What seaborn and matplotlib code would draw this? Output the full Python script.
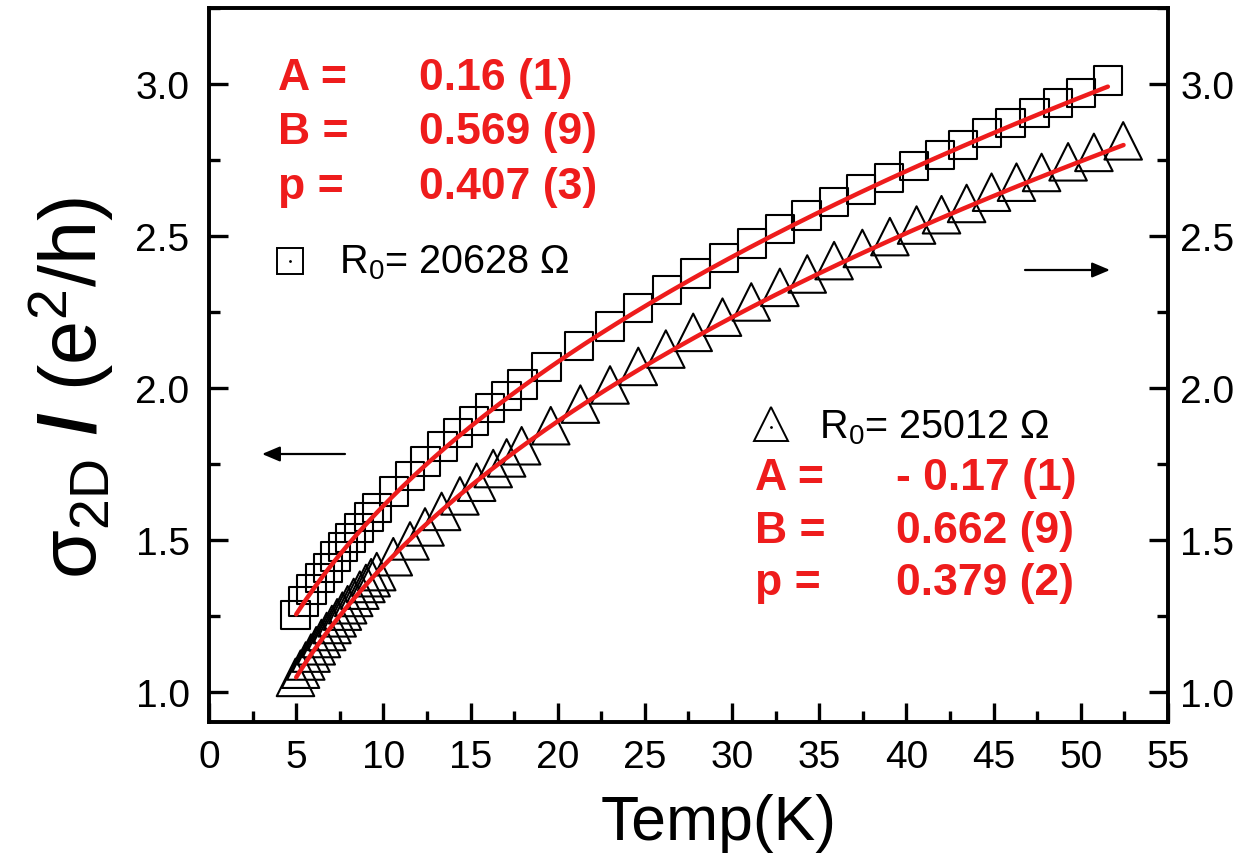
import numpy as np
import pandas as pd
import matplotlib
matplotlib.use("Agg")
import matplotlib.pyplot as plt
import seaborn as sns
from matplotlib.lines import Line2D
from matplotlib.ticker import MultipleLocator

# ---------------- data ----------------
T_sq = [4.97, 5.41, 5.87, 6.36, 6.82, 7.26, 7.70, 8.12, 8.60, 9.17, 9.65, 10.6,
        11.53, 12.42, 13.38, 14.28, 15.2, 16.11, 17.07, 17.97, 19.36, 21.22, 23.0,
        24.6, 26.28, 27.9, 29.53, 31.15, 32.74, 34.27, 35.84, 37.4, 38.99, 40.42,
        41.91, 43.25, 44.63, 45.97, 47.35, 48.68, 50.02, 51.55]
sig_sq = [1.254, 1.298, 1.337, 1.375, 1.408, 1.446, 1.477, 1.507, 1.539, 1.576,
          1.605, 1.660, 1.710, 1.759, 1.808, 1.852, 1.891, 1.934, 1.973, 2.011,
          2.069, 2.139, 2.203, 2.263, 2.323, 2.376, 2.428, 2.475, 2.523, 2.567,
          2.611, 2.653, 2.691, 2.731, 2.767, 2.800, 2.839, 2.872, 2.905, 2.938,
          2.970, 3.011]

T_tri = [4.96, 5.25, 5.55, 5.85, 6.15, 6.45, 6.75, 7.05, 7.35, 7.65, 7.95, 8.3,
         8.65, 9.0, 9.3, 9.62, 10.57, 11.53, 12.39, 13.34, 14.39, 15.35, 16.3,
         17.07, 17.93, 19.6, 21.3, 23.0, 24.62, 26.2, 27.77, 29.45, 31.1, 32.74,
         34.31, 35.85, 37.47, 39.05, 40.58, 42.01, 43.45, 44.88, 46.31, 47.75,
         49.27, 50.75, 52.43]
sig_tri = [1.048, 1.075, 1.102, 1.128, 1.152, 1.176, 1.199, 1.222, 1.244, 1.266,
           1.287, 1.311, 1.335, 1.357, 1.376, 1.396, 1.445, 1.497, 1.543, 1.594,
           1.645, 1.690, 1.735, 1.770, 1.810, 1.876, 1.947, 2.010, 2.071, 2.128,
           2.183, 2.233, 2.283, 2.331, 2.375, 2.419, 2.459, 2.498, 2.536, 2.570,
           2.607, 2.644, 2.677, 2.709, 2.744, 2.775, 2.813]

# fit parameters shown on the chart: sigma = A + B * T^p
A_sq, B_sq, p_sq = 0.16, 0.569, 0.407
A_tri, B_tri, p_tri = -0.17, 0.662, 0.379
fit_range_sq = (5.0, 51.55)
fit_range_tri = (5.0, 52.45)

R0_sq = "20628"
R0_tri = "25012"
params_sq = ["0.16 (1)", "0.569 (9)", "0.407 (3)"]
params_tri = ["- 0.17 (1)", "0.662 (9)", "0.379 (2)"]
param_names = ["A =", "B =", "p ="]

x_ticks = list(range(0, 56, 5))
y_ticks = [1.0, 1.5, 2.0, 2.5, 3.0]

# ---------------- style ----------------
sns.set_theme(style="white")
plt.rcParams["font.family"] = ["Liberation Sans", "DejaVu Sans"]
plt.rcParams["mathtext.fontset"] = "custom"
plt.rcParams["mathtext.rm"] = "Liberation Sans"
plt.rcParams["mathtext.it"] = "Liberation Sans:italic"
plt.rcParams["mathtext.bf"] = "Liberation Sans:bold"
plt.rcParams["text.color"] = "black"
plt.rcParams["axes.labelcolor"] = "black"
plt.rcParams["xtick.color"] = "black"
plt.rcParams["ytick.color"] = "black"

RED = "#ee1c1c"
W, H = 1249, 854

fig = plt.figure(figsize=(W / 100, H / 100), dpi=100)
fig.patch.set_facecolor("white")
left_px, right_px, top_px, bot_px = 209, 1168, 9, 723
ax = fig.add_axes([left_px / W, 1 - bot_px / H, (right_px - left_px) / W,
                   (bot_px - top_px) / H])
ax2 = ax.twinx()

df_sq = pd.DataFrame({"T": T_sq, "sigma": sig_sq})
df_tri = pd.DataFrame({"T": T_tri, "sigma": sig_tri})

Tf_sq = np.linspace(*fit_range_sq, 300)
Tf_tri = np.linspace(*fit_range_tri, 300)
df_fit_sq = pd.DataFrame({"T": Tf_sq, "sigma": A_sq + B_sq * Tf_sq ** p_sq})
df_fit_tri = pd.DataFrame({"T": Tf_tri, "sigma": A_tri + B_tri * Tf_tri ** p_tri})

sns.scatterplot(data=df_sq, x="T", y="sigma", ax=ax, marker="s", s=20.5 ** 2,
                facecolors="none", edgecolor="black", linewidth=1.5, zorder=3)
sns.lineplot(data=df_fit_sq, x="T", y="sigma", ax=ax, color=RED, linewidth=3.2,
             zorder=4)
sns.scatterplot(data=df_tri, x="T", y="sigma", ax=ax2, marker="^", s=27 ** 2,
                facecolors="none", edgecolor="black", linewidth=1.5, zorder=3)
sns.lineplot(data=df_fit_tri, x="T", y="sigma", ax=ax2, color=RED, linewidth=3.2,
             zorder=4)

ylim = (1.0 - (bot_px - 693) / 304.0, 3.0 + (85 - top_px) / 304.0)
for a in (ax, ax2):
    a.set_xlim(0, 55)
    a.set_ylim(*ylim)
    a.set_ylabel("")
    a.set_xlabel("")
    for s in a.spines.values():
        s.set_linewidth(2.6)
        s.set_color("black")

ax.set_xticks(x_ticks)
ax.xaxis.set_minor_locator(MultipleLocator(2.5))
ax.set_yticks(y_ticks)
ax.set_yticklabels([f"{v:.1f}" for v in y_ticks])
ax.yaxis.set_minor_locator(MultipleLocator(0.25))
ax2.set_yticks(y_ticks)
ax2.set_yticklabels([f"{v:.1f}" for v in y_ticks])
ax2.yaxis.set_minor_locator(MultipleLocator(0.25))

ax.tick_params(axis="both", which="major", direction="in", length=14, width=2.4,
               labelsize=28, colors="black")
ax.tick_params(axis="both", which="minor", direction="in", length=8, width=2.4)
ax.tick_params(axis="x", which="both", top=False, bottom=True, pad=12)
ax.tick_params(axis="y", which="both", left=True, right=False, pad=14)
ax2.tick_params(axis="y", which="major", direction="in", length=14, width=2.4,
                labelsize=28, pad=9, colors="black")
ax2.tick_params(axis="y", which="minor", direction="in", length=8, width=2.4)

fig.text(719 / W, 1 - 840 / H, "Temp(K)", fontsize=45, ha="center",
         va="baseline", color="black")
fig.text(71 / W, 1 - 388 / H, "σ" + r"$_{\rm 2D}$ $\mathbf{/}$ (e$^{\rm 2}$/h)",
         fontsize=57, rotation=90, ha="center", va="center", color="black")

# ---------------- annotations ----------------
def ftext(x, y, s, **kw):
    fig.text(x / W, 1 - y / H, s, **kw)

for i, (nm, val) in enumerate(zip(param_names, params_sq)):
    yb = [90, 144, 199][i]
    ftext(278, yb, nm, color=RED, fontsize=32, fontweight="bold", va="baseline")
    ftext(419, yb, val, color=RED, fontsize=32, fontweight="bold", va="baseline")

for i, (nm, val) in enumerate(zip(param_names, params_tri)):
    yb = [490, 543, 595][i]
    ftext(755, yb, nm, color=RED, fontsize=32, fontweight="bold", va="baseline")
    ftext(896, yb, val, color=RED, fontsize=32, fontweight="bold", va="baseline")

ftext(339, 273, r"R$_{\rm 0}$= " + R0_sq + " Ω", fontsize=28.5, va="baseline",
      color="black")
ftext(819, 438, r"R$_{\rm 0}$= " + R0_tri + " Ω", fontsize=28.5, va="baseline",
      color="black")

fig.add_artist(Line2D([290 / W], [1 - 262 / H], marker="s", markersize=19,
                      markerfacecolor="none", markeredgecolor="black",
                      markeredgewidth=1.4, transform=fig.transFigure))
fig.add_artist(Line2D([290 / W], [1 - 262 / H], marker=".", markersize=2,
                      color="black", transform=fig.transFigure))
fig.add_artist(Line2D([771 / W], [1 - 425 / H], marker="^", markersize=25,
                      markerfacecolor="none", markeredgecolor="black",
                      markeredgewidth=1.4, transform=fig.transFigure))
fig.add_artist(Line2D([771 / W], [1 - 428 / H], marker=".", markersize=2,
                      color="black", transform=fig.transFigure))

arrow_kw = dict(arrowstyle="-|>,head_length=0.9,head_width=0.38", color="black",
                lw=1.6, shrinkA=0, shrinkB=0)
ax.annotate("", xy=(262 / W, 1 - 455 / H), xytext=(345 / W, 1 - 455 / H),
            xycoords="figure fraction", textcoords="figure fraction",
            arrowprops=arrow_kw)
ax.annotate("", xy=(1110 / W, 1 - 271 / H), xytext=(1025 / W, 1 - 271 / H),
            xycoords="figure fraction", textcoords="figure fraction",
            arrowprops=arrow_kw)

fig.savefig("out.png", dpi=100, facecolor="white")
